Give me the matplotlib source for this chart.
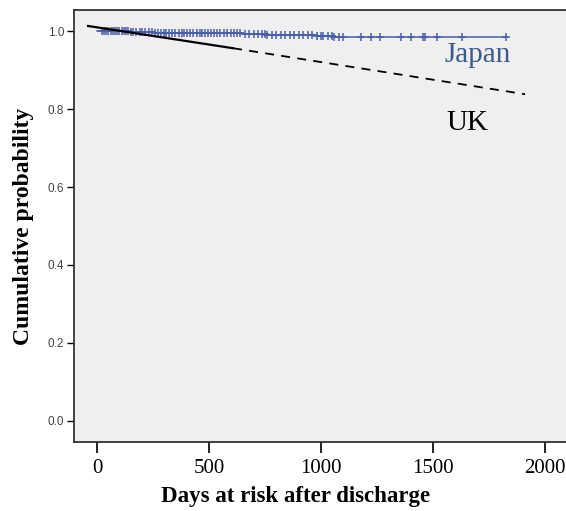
import matplotlib
matplotlib.use("Agg")
import matplotlib.pyplot as plt
import numpy as np

# Japan Kaplan-Meier: step times and survival
jp_times = [0, 60, 150, 260, 380, 520, 650, 760, 880, 980, 1060, 1830]
jp_surv = [1.0, 0.999, 0.998, 0.996, 0.995, 0.994, 0.993, 0.991, 0.989, 0.987, 0.985, 0.985]
# Japan censoring times
jp_censor = [20, 30, 40, 50, 60, 70, 80, 90, 100, 110, 120, 130, 140, 150, 160, 175,
             190, 200, 215, 230, 245, 260, 270, 285, 300, 310, 320, 335, 350, 365,
             380, 390, 400, 415, 430, 445, 460, 470, 480, 495, 510, 520, 535, 550,
             565, 580, 600, 610, 625, 640, 660, 680, 700, 720, 735, 750, 760, 780,
             800, 820, 840, 860, 880, 900, 920, 940, 960, 980, 1000, 1010, 1030, 1050,
             1060, 1080, 1100, 1180, 1225, 1265, 1355, 1400, 1455, 1465, 1520, 1630, 1825]
# UK predicted line (observed solid, extrapolated dashed)
uk_obs_t = [-40, 607]
uk_obs_s = [1.013, 0.956]
uk_ext_t = [607, 1911]
uk_ext_s = [0.956, 0.838]

xticks = [0, 500, 1000, 1500, 2000]
yticks = [0.0, 0.2, 0.4, 0.6, 0.8, 1.0]

fig = plt.figure(figsize=(5.66, 5.11), dpi=100)
ax = fig.add_axes([74/566, 69/511, 501/566, 432/511])
ax.set_facecolor("#efefef")

blue = "#4a5ea8"
ax.step(jp_times, jp_surv, where="post", color=blue, lw=1.1, zorder=3)
cs = [jp_surv[max(i for i, t in enumerate(jp_times) if t <= c)] for c in jp_censor]
ax.plot(jp_censor, cs, linestyle="none", marker="+", color=blue, ms=6, mew=1.1, zorder=3)

ax.plot(uk_obs_t, uk_obs_s, color="black", lw=1.6, zorder=4)
ax.plot(uk_ext_t, uk_ext_s, color="black", lw=1.3, ls=(0, (5, 4)), zorder=4)

ax.text(1553, 0.921, "Japan", color="#3d5a8e", fontsize=21, family="Liberation Serif", va="baseline")
ax.text(1562, 0.746, "UK", color="black", fontsize=21, family="Liberation Serif", va="baseline")

ax.set_xlim(-103, 2134)
ax.set_ylim(-0.054, 1.054)
ax.set_xticks(xticks)
ax.set_xticklabels([str(x) for x in xticks], family="Liberation Serif", fontsize=15)
ax.set_yticks(yticks)
ax.set_yticklabels([f"{y:.1f}" for y in yticks], family="Liberation Sans", fontsize=8.5, color="#444444")
ax.tick_params(axis="x", length=8, width=1.2, pad=4)
ax.tick_params(axis="y", length=5, width=1, pad=2)
for s in ax.spines.values():
    s.set_linewidth(1.3)
    s.set_color("#333333")

ax.set_xlabel("Days at risk after discharge", family="Liberation Serif", fontsize=16.5, fontweight="bold")
ax.xaxis.set_label_coords((296 - 74) / 501, -0.102)
ax.set_ylabel("Cumulative probability", family="Liberation Serif", fontsize=17, fontweight="bold", labelpad=10)

fig.savefig("out.png", dpi=100)
